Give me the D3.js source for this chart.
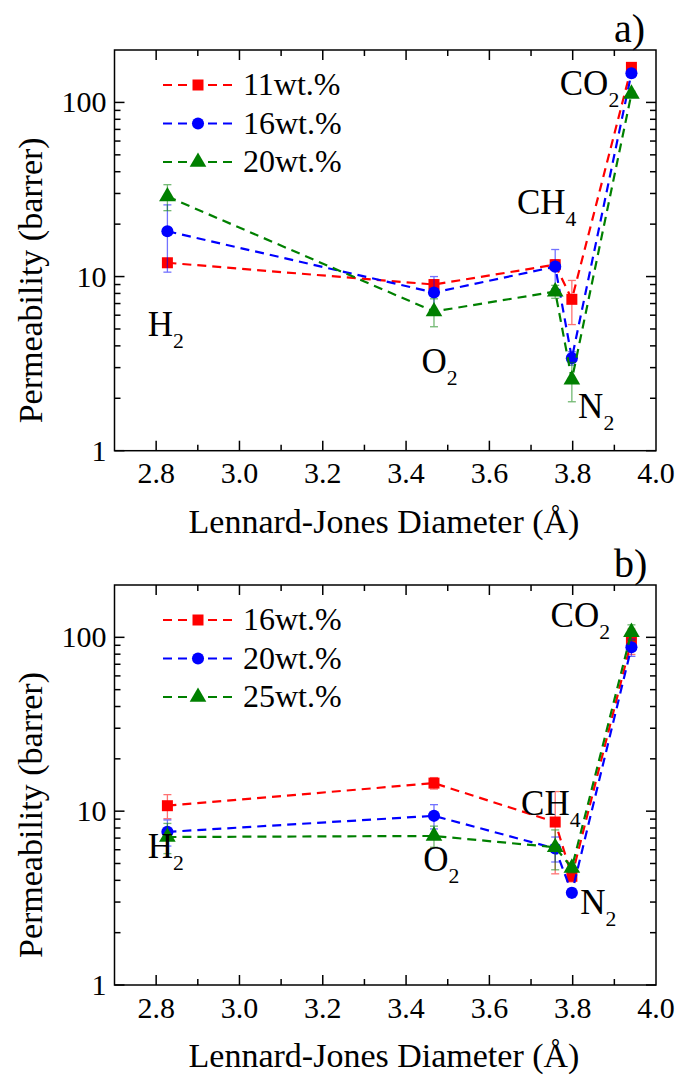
<!DOCTYPE html>
<html>
<head>
<meta charset="utf-8">
<script src="https://cdn.jsdelivr.net/npm/d3@7/dist/d3.min.js"></script>
<style>
  html, body { margin: 0; padding: 0; background: #fff; }
  svg { display: block; }
</style>
</head>
<body>
<svg id="chart" width="676" height="1076"></svg>
<script>
// gases and their Lennard-Jones diameters (Å)
var gases      = ['H2', 'O2', 'CH4', 'N2', 'CO2'];
var ljDiameter = [2.827, 3.467, 3.758, 3.798, 3.941];

// panel a)
var seriesA  = ['11wt.%', '16wt.%', '20wt.%'];
var permA11  = [12.0, 9.0, 11.7, 7.4, 159];
var errA11   = [0.7, 0.6, 0.8, 2.1, 5];
var permA16  = [18.2, 8.1, 11.4, 3.4, 147];
var errA16   = [7.6, 1.9, 2.9, 0.3, 8];
var permA20  = [28.8, 6.3, 8.2, 2.56, 112];
var errA20   = [4.9, 1.15, 0.7, 0.65, 4];

// panel b)
var seriesB  = ['16wt.%', '20wt.%', '25wt.%'];
var permB16  = [10.75, 14.5, 8.66, 4.22, 95.7];
var errB16   = [1.7, 1.1, 4.3, 0.3, 16];
var permB20  = [7.6, 9.4, 6.1, 3.39, 87.7];
var errB20   = [1.3, 1.5, 1.0, 0.2, 10];
var permB25  = [7.1, 7.2, 6.2, 4.72, 107];
var errB25   = [1.4, 1.0, 1.6, 0.3, 11];

// axes
var xTicks      = [2.8, 3.0, 3.2, 3.4, 3.6, 3.8, 4.0];
var xMinorTicks = [2.9, 3.1, 3.3, 3.5, 3.7, 3.9];
var yTicks      = [1, 10, 100];
var xDomain     = [2.7, 4.0];
var yDomain     = [1, 200];

var colors  = ['#ff0000', '#0000ff', '#008000'];
var symbols = [d3.symbolSquare, d3.symbolCircle, d3.symbolTriangle];
var symSize = [121, 115, 120];

// gas label anchors in data coordinates, per panel
var gasLabelsA = [[2.78, 4.55], [3.437, 2.8], [3.666, 23], [3.813, 1.55], [3.769, 110]];
var gasLabelsB = [[2.78, 5.4], [3.441, 4.5], [3.676, 9.5], [3.818, 2.55], [3.747, 115]];

var FONT = 'Liberation Serif';
var svg = d3.select('#chart');
var L = 114.5, R = 656;

function txt(g, x, y, size) {
    return g.append('text').attr('x', x).attr('y', y)
        .attr('font-family', FONT).attr('font-size', size).attr('fill', '#000');
}

function subText(g, x, y, label, size) {
    var m = label.match(/^([A-Z][A-Za-z]*?)(\d+)$/);
    var t = txt(g, x, y, size);
    t.append('tspan').text(m[1]);
    t.append('tspan').attr('font-size', size * 0.62).attr('dy', 12).text(m[2]);
}

function drawPanel(top, bottom, tag, names, perms, errs, labelPos) {
    var x = d3.scaleLinear().domain(xDomain).range([L, R]);
    var y = d3.scaleLog().domain(yDomain).range([bottom, top]);
    var g = svg.append('g');

    // ticks, inward on all four sides
    var minorY = [];
    [1, 10, 100].forEach(function (dec) {
        for (var k = 2; k <= 9; k++) if (dec * k < 200) minorY.push(dec * k);
    });
    function tickLine(x1, y1, x2, y2) {
        g.append('line').attr('x1', x1).attr('y1', y1).attr('x2', x2).attr('y2', y2)
            .attr('stroke', '#000').attr('stroke-width', 1.5);
    }
    xTicks.forEach(function (v) {
        if (v >= 4.0) return;
        tickLine(x(v), bottom, x(v), bottom - 10);
        tickLine(x(v), top, x(v), top + 10);
    });
    xMinorTicks.forEach(function (v) {
        tickLine(x(v), bottom, x(v), bottom - 6);
        tickLine(x(v), top, x(v), top + 6);
    });
    yTicks.forEach(function (v) {
        tickLine(L, y(v), L + 10, y(v));
        tickLine(R, y(v), R - 10, y(v));
    });
    minorY.forEach(function (v) {
        tickLine(L, y(v), L + 6, y(v));
        tickLine(R, y(v), R - 6, y(v));
    });

    g.append('rect').attr('x', L).attr('y', top).attr('width', R - L).attr('height', bottom - top)
        .attr('fill', 'none').attr('stroke', '#000').attr('stroke-width', 1.5);

    // tick labels
    xTicks.forEach(function (d) {
        txt(g, x(d), bottom + 32.5, 30).attr('text-anchor', 'middle').text(d.toFixed(1));
    });
    yTicks.forEach(function (d) {
        txt(g, L - 8, y(d) + 10, 30).attr('text-anchor', 'end').text(d);
    });

    txt(g, 384, bottom + 82, 34).attr('text-anchor', 'middle')
        .text('Lennard-Jones Diameter (\u00C5)');
    txt(g, 0, 0, 34)
        .attr('transform', 'translate(42,' + ((top + bottom) / 2 + 30) + ') rotate(-90)')
        .attr('text-anchor', 'middle')
        .text('Permeability (barrer)');

    txt(g, 614, top - 8, 40).text(tag);

    // series
    perms.forEach(function (vals, si) {
        var col = colors[si];
        var pts = vals.map(function (v, i) { return { x: ljDiameter[i], v: v, e: errs[si][i] }; });

        var eg = g.append('g').attr('stroke', col).attr('stroke-width', 1.3).attr('opacity', 0.55);
        pts.forEach(function (p) {
            var y1 = y(p.v + p.e), y2 = y(Math.max(p.v - p.e, 1.01)), cx = x(p.x);
            eg.append('line').attr('x1', cx).attr('x2', cx).attr('y1', y1).attr('y2', y2);
            eg.append('line').attr('x1', cx - 4).attr('x2', cx + 4).attr('y1', y1).attr('y2', y1);
            eg.append('line').attr('x1', cx - 4).attr('x2', cx + 4).attr('y1', y2).attr('y2', y2);
        });

        g.append('path').datum(pts)
            .attr('fill', 'none').attr('stroke', col).attr('stroke-width', 2.2)
            .attr('stroke-dasharray', '9,6')
            .attr('d', d3.line().x(function (d) { return x(d.x); }).y(function (d) { return y(d.v); }));

        g.selectAll('.m' + si).data(pts).enter().append('path')
            .attr('transform', function (d) { return 'translate(' + x(d.x) + ',' + y(d.v) + ')'; })
            .attr('d', d3.symbol().type(symbols[si]).size(symSize[si]))
            .attr('fill', col);

        // legend entry
        var ly = top + 35 + si * 38.5;
        g.append('line').attr('x1', 163).attr('x2', 232).attr('y1', ly).attr('y2', ly)
            .attr('stroke', col).attr('stroke-width', 2.2).attr('stroke-dasharray', '9,6');
        g.append('path').attr('transform', 'translate(198,' + ly + ')')
            .attr('d', d3.symbol().type(symbols[si]).size(symSize[si])).attr('fill', col);
        txt(g, 243, ly + 10, 32).text(names[si]);
    });

    // gas labels
    gases.forEach(function (name, i) {
        subText(g, x(labelPos[i][0]), y(labelPos[i][1]), name, 35);
    });
}

drawPanel(50, 450.7, 'a)', seriesA, [permA11, permA16, permA20], [errA11, errA16, errA20], gasLabelsA);
drawPanel(585, 985, 'b)', seriesB, [permB16, permB20, permB25], [errB16, errB20, errB25], gasLabelsB);
</script>
</body>
</html>
